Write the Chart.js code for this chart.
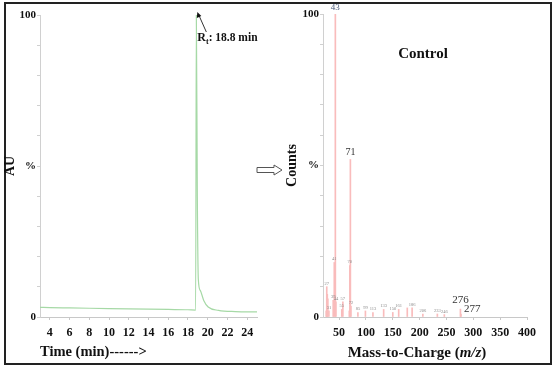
<!DOCTYPE html>
<html lang="en">
<head>
  <meta charset="UTF-8">
  <title>Chromatogram and mass spectrum</title>
  <style>
  body {
    margin: 0;
    background: #fff;
    width: 558px;
    height: 367px;
    position: relative;
    overflow: hidden;
  }
  .frame {
    position: absolute;
    left: 4px;
    top: 2px;
    width: 544px;
    height: 359px;
    border: 2px solid #222;
  }
  .panel {
    position: absolute;
    top: 0;
    height: 367px;
  }
  #left-panel { left: 0; width: 285px; }
  #right-panel { left: 280px; width: 278px; }
  </style>
  <script src="https://cdn.jsdelivr.net/npm/chart.js"></script>
</head>
<body>
  <div class="frame"></div>
  <div class="panel" id="left-panel"><canvas id="lc-chart"></canvas></div>
  <div class="panel" id="right-panel"><canvas id="ms-chart"></canvas></div>

  <script>
    // chromatogram (time in min vs AU %)
    const timeMin = [3, 4, 6, 8, 10, 12, 14, 16, 18, 18.78, 18.85, 18.95, 19.05, 19.25, 19.6, 20.05, 21.1, 22.8, 25];
    const auValues = [3.2, 3.1, 3.0, 2.9, 2.8, 2.7, 2.6, 2.5, 2.4, 2.3, 100, 40, 12.5, 8.8, 5.5, 3.3, 2.2, 1.8, 1.7];
    const timeTicks = [4, 6, 8, 10, 12, 14, 16, 18, 20, 22, 24];

    // mass spectrum (m/z vs relative counts %)
    const mzValues = [26, 27, 28, 29, 31, 39, 41, 43, 44, 55, 57, 69, 70, 71, 72, 85, 99, 113, 133, 150, 161, 177, 186, 206, 233, 246, 276, 277];
    const countValues = [2, 10, 7.5, 6, 2, 5.5, 18, 100, 5, 2.5, 5, 2, 17, 52, 3.5, 1.5, 2, 1.5, 2.5, 1.5, 2.5, 3, 3, 1, 1, 0.8, 2.6, 1];
    const bigLabels = [43, 71, 276, 277];
    const smallLabels = [27, 31, 39, 41, 44, 55, 57, 70, 72, 85, 99, 113, 133, 150, 161, 186, 206, 233, 246];
    const mzTicks = [50, 100, 150, 200, 250, 300, 350, 400];
    const pctTicks = [0, 10, 20, 30, 40, 50, 60, 70, 80, 90, 100];

    const serif = "'Liberation Serif', 'Times New Roman', serif";

    function pctLabel(v) {
      if (v === 100) return '100';
      if (v === 50) return '%';
      if (v === 0) return '0';
      return '';
    }

    function yScale(width) {
      return {
        min: 0,
        max: 100,
        afterBuildTicks: s => { s.ticks = pctTicks.map(v => ({ value: v })); },
        afterFit: s => { s.width = width; },
        border: { color: '#d0d0d0' },
        grid: { drawOnChartArea: false, tickLength: 3, color: '#d0d0d0' },
        ticks: {
          padding: 1,
          color: '#111',
          font: { family: serif, size: 11, weight: 'bold' },
          callback: v => pctLabel(v)
        }
      };
    }

    // Rt annotation + hollow arrow for the chromatogram
    const rtPlugin = {
      id: 'rtNote',
      afterDraw(chart) {
        const ctx = chart.ctx;
        const px = chart.scales.x.getPixelForValue(18.85);
        const py = chart.scales.y.getPixelForValue(100);
        ctx.save();
        ctx.fillStyle = '#111';
        ctx.strokeStyle = '#333';
        ctx.lineWidth = 1;
        // arrow line to peak top
        ctx.beginPath();
        ctx.moveTo(px + 10, py + 17);
        ctx.lineTo(px + 2, py - 1);
        ctx.stroke();
        ctx.beginPath();
        ctx.moveTo(px + 1, py - 3);
        ctx.lineTo(px + 0.5, py + 3);
        ctx.lineTo(px + 5, py + 1);
        ctx.closePath();
        ctx.fill();
        // label text
        let x = px + 1;
        const y = py + 26;
        ctx.textBaseline = 'alphabetic';
        ctx.font = 'bold 12px ' + serif;
        ctx.fillText('R', x, y);
        x += ctx.measureText('R').width;
        ctx.font = 'bold 8px ' + serif;
        ctx.fillText('t', x, y + 3);
        x += ctx.measureText('t').width;
        ctx.font = 'bold 11.5px ' + serif;
        ctx.fillText(': 18.8 min', x, y);
        // hollow arrow between panels
        ctx.strokeStyle = '#555';
        ctx.fillStyle = '#fff';
        ctx.beginPath();
        ctx.moveTo(257, 167.5);
        ctx.lineTo(274, 167.5);
        ctx.lineTo(274, 165);
        ctx.lineTo(282, 170);
        ctx.lineTo(274, 175);
        ctx.lineTo(274, 172.5);
        ctx.lineTo(257, 172.5);
        ctx.closePath();
        ctx.fill();
        ctx.stroke();
        ctx.restore();
      }
    };

    new Chart(document.getElementById('lc-chart'), {
      type: 'line',
      data: {
        datasets: [{
          data: timeMin.map((t, i) => ({ x: t, y: auValues[i] })),
          borderColor: '#a6d9a6',
          borderWidth: 1.2,
          pointRadius: 0,
          tension: 0,
          cubicInterpolationMode: 'monotone'
        }]
      },
      options: {
        responsive: true,
        maintainAspectRatio: false,
        animation: false,
        layout: { padding: { top: 15, right: 28, left: 0, bottom: 0 } },
        plugins: { legend: { display: false }, tooltip: { enabled: false } },
        scales: {
          x: {
            type: 'linear',
            min: 3,
            max: 25,
            afterBuildTicks: s => { s.ticks = timeTicks.map(v => ({ value: v })); },
            afterFit: s => { s.height = 50; },
            border: { color: '#c8c8c8' },
            grid: { drawOnChartArea: false, tickLength: 3, color: '#c8c8c8' },
            ticks: {
              padding: 6,
              maxRotation: 0,
              color: '#111',
              font: { family: serif, size: 12, weight: 'bold' }
            },
            title: {
              display: true,
              align: 'start',
              text: 'Time (min)------>',
              color: '#111',
              padding: { top: 0, bottom: 6 },
              font: { family: serif, size: 14.5, weight: 'bold' }
            }
          },
          y: Object.assign(yScale(40), {
            title: {
              display: true,
              text: 'AU',
              color: '#111',
              padding: { top: 2, bottom: 0 },
              font: { family: serif, size: 14, weight: 'bold' }
            }
          })
        }
      },
      plugins: [rtPlugin]
    });

    // peak labels, "Control" and the x title for the spectrum
    const msPlugin = {
      id: 'msNotes',
      afterDraw(chart) {
        const ctx = chart.ctx;
        const xs = chart.scales.x, ys = chart.scales.y;
        ctx.save();
        ctx.textAlign = 'center';
        ctx.textBaseline = 'bottom';
        smallLabels.forEach(m => {
          const v = countValues[mzValues.indexOf(m)];
          ctx.fillStyle = '#8a8a8a';
          ctx.font = '4.5px ' + serif;
          ctx.fillText(String(m), xs.getPixelForValue(m), ys.getPixelForValue(v) - 1);
        });
        bigLabels.forEach(m => {
          const v = countValues[mzValues.indexOf(m)];
          let x = xs.getPixelForValue(m);
          let y = ys.getPixelForValue(v) - 2;
          ctx.fillStyle = '#333';
          if (m === 43) {
            ctx.font = '9px ' + serif;
            ctx.fillStyle = '#4a5a78';
          } else if (m === 71) {
            ctx.font = '10px ' + serif;
          } else {
            ctx.font = '11px ' + serif;
          }
          if (m === 276) y -= 2;
          if (m === 277) { ctx.textAlign = 'left'; x += 3; y += 3; }
          ctx.fillText(String(m), x, y);
          ctx.textAlign = 'center';
        });
        // Control
        ctx.fillStyle = '#111';
        ctx.textBaseline = 'middle';
        ctx.font = 'bold 15px ' + serif;
        ctx.fillText('Control', 143, 54);
        // x title with italic m/z
        const parts = [
          ['Mass-to-Charge (', 'bold 15px '],
          ['m/z', 'italic bold 15px '],
          [')', 'bold 15px ']
        ];
        let total = 0;
        parts.forEach(p => { ctx.font = p[1] + serif; total += ctx.measureText(p[0]).width; });
        let x = (chart.chartArea.left + chart.chartArea.right) / 2 - 8 - total / 2;
        ctx.textAlign = 'left';
        parts.forEach(p => {
          ctx.font = p[1] + serif;
          ctx.fillText(p[0], x, 353);
          x += ctx.measureText(p[0]).width;
        });
        ctx.restore();
      }
    };

    new Chart(document.getElementById('ms-chart'), {
      type: 'bar',
      data: {
        datasets: [{
          data: mzValues.map((m, i) => ({ x: m, y: countValues[i] })),
          backgroundColor: '#f9bcbc',
          barThickness: 1,
          borderWidth: 0
        }]
      },
      options: {
        responsive: true,
        maintainAspectRatio: false,
        animation: false,
        layout: { padding: { top: 14, right: 31, left: 0, bottom: 0 } },
        plugins: { legend: { display: false }, tooltip: { enabled: false } },
        scales: {
          x: {
            type: 'linear',
            offset: false,
            min: 20,
            max: 400,
            afterBuildTicks: s => { s.ticks = mzTicks.map(v => ({ value: v })); },
            afterFit: s => { s.height = 50; },
            border: { color: '#c8c8c8' },
            grid: { drawOnChartArea: false, offset: false, tickLength: 3, color: '#c8c8c8' },
            ticks: {
              padding: 6,
              maxRotation: 0,
              color: '#111',
              font: { family: serif, size: 12, weight: 'bold' }
            }
          },
          y: Object.assign(yScale(43), {
            title: {
              display: true,
              text: 'Counts',
              color: '#111',
              padding: { top: 4, bottom: 0 },
              font: { family: serif, size: 14, weight: 'bold' }
            }
          })
        }
      },
      plugins: [msPlugin]
    });
  </script>
</body>
</html>
